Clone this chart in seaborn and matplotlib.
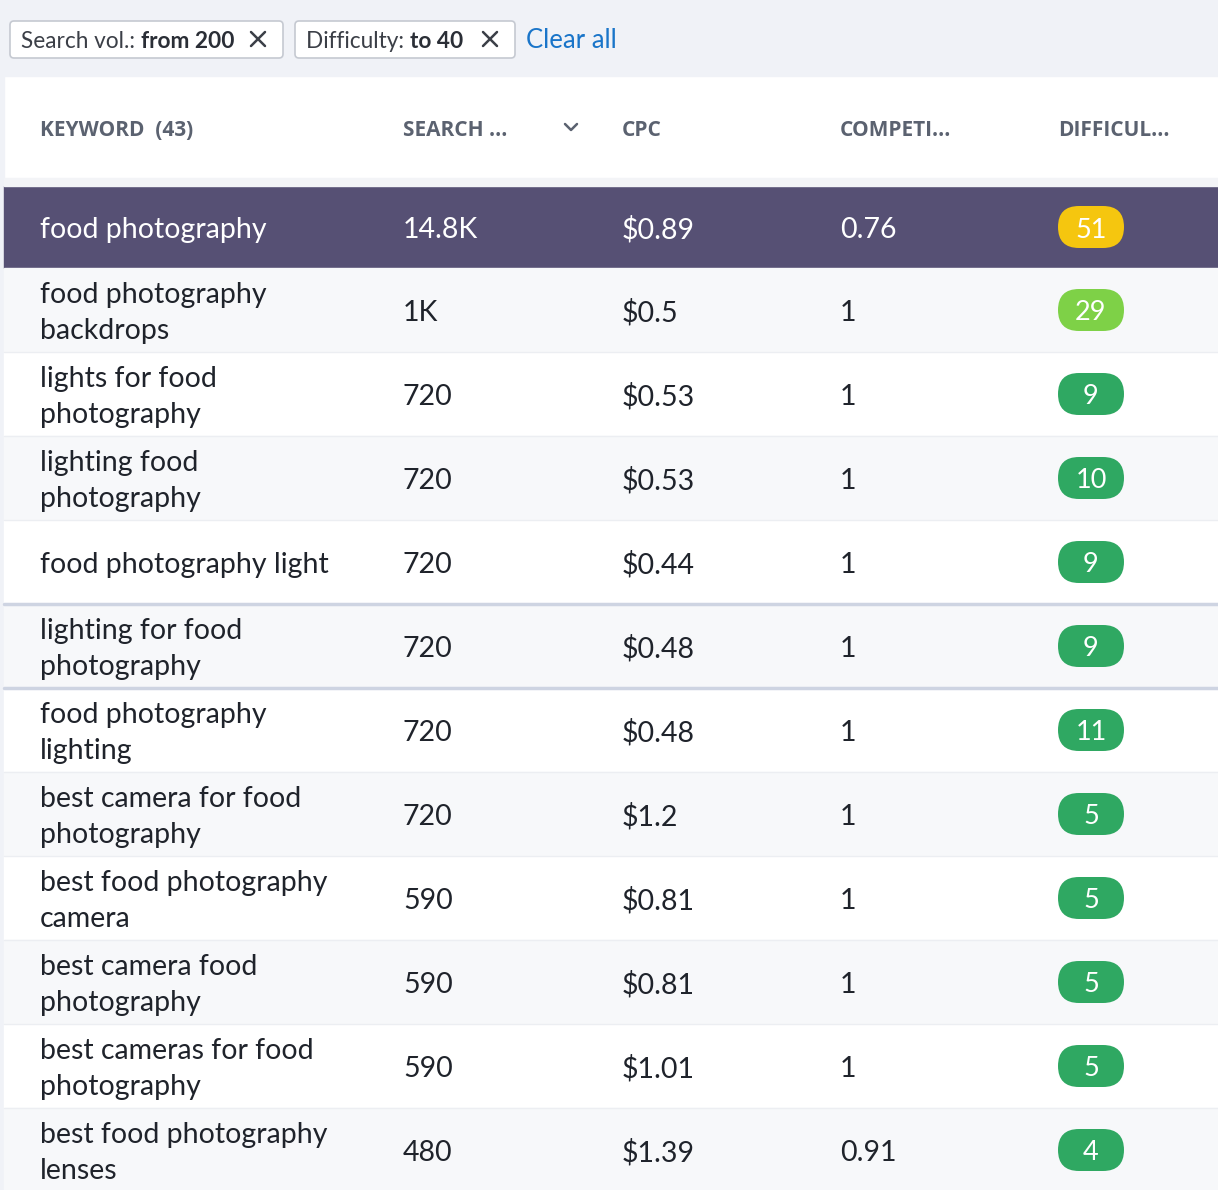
import matplotlib.pyplot as plt
import seaborn as sns
from matplotlib.patches import FancyBboxPatch, Rectangle

keywords = ["food photography", "food photography\nbackdrops", "lights for food\nphotography",
            "lighting food\nphotography", "food photography light", "lighting for food\nphotography",
            "food photography\nlighting", "best camera for food\nphotography", "best food photography\ncamera",
            "best camera food\nphotography", "best cameras for food\nphotography", "best food photography\nlenses"]
search_vol = ["14.8K", "1K", "720", "720", "720", "720", "720", "720", "590", "590", "590", "480"]
cpc = ["$0.89", "$0.5", "$0.53", "$0.53", "$0.44", "$0.48", "$0.48", "$1.2", "$0.81", "$0.81", "$1.01", "$1.39"]
competition = ["0.76", "1", "1", "1", "1", "1", "1", "1", "1", "1", "1", "0.91"]
difficulty = [51, 29, 9, 10, 9, 9, 11, 5, 5, 5, 5, 4]
headers = ["KEYWORD  (43)", "SEARCH ...", "CPC", "COMPETI...", "DIFFICUL..."]
filters = ["Search vol.: from 200", "Difficulty: to 40"]

sns.set_theme(style="white", font="Lato")
fig = plt.figure(figsize=(12.18, 11.9), dpi=100)
ax = fig.add_axes([0, 0, 1, 1])
ax.set_xlim(0, 1218)
ax.set_ylim(1190, 0)
ax.axis("off")


def cross(cx, cy, s=7, color="#3b3f47"):
    ax.plot([cx - s, cx + s], [cy - s, cy + s], color=color, lw=1.8, zorder=3)
    ax.plot([cx - s, cx + s], [cy + s, cy - s], color=color, lw=1.8, zorder=3)


# top filter bar
ax.add_patch(Rectangle((0, 0), 1218, 76, color="#f0f2f7", zorder=0))
ax.add_patch(Rectangle((0, 76), 4, 1114, color="#f0f2f7", zorder=0))
chip_x = [(10, 283), (295, 515)]
for (x0, x1), label in zip(chip_x, filters):
    ax.add_patch(FancyBboxPatch((x0, 21), x1 - x0, 37, boxstyle="round,pad=0,rounding_size=4",
                                fc="white", ec="#c5c9d1", lw=1.2, zorder=1))
    name, val = label.split(": ")
    t = ax.text(x0 + 11, 41, name + ": ", fontsize=16.3, color="#3b3f47", va="center", zorder=2)
    fig.canvas.draw()
    bb = t.get_window_extent()
    ax.text(bb.x1, 41, val, fontsize=16.3, color="#2a2e36", va="center", weight="bold", zorder=2)
    cross(x1 - 25, 39)
ax.text(526, 41, "Clear all", fontsize=18.5, color="#1a75c9", va="center")

# header
col_x = [40, 403, 622, 840, 1058]
for x, h in zip(col_x, headers):
    ax.text(x, 131, h, fontsize=15, weight="bold", color="#5b6270", va="center", family="Open Sans")
ax.plot([565, 571, 577], [124, 130, 124], color="#5b6270", lw=1.8)
ax.add_patch(Rectangle((4, 178), 1214, 8, color="#f3f4f7"))

# rows
for i, kw in enumerate(keywords):
    h = 82 if i == 0 else 84
    y0 = 186 if i == 0 else 268 + 84 * (i - 1)
    yc = y0 + h / 2
    fc = "#565074" if i == 0 else ("#f7f8fa" if i % 2 == 1 else "white")
    ax.add_patch(Rectangle((4, y0), 1214, h, color=fc, zorder=0))
    if i > 1:
        lw, lc = (2.5, "#ced4e2") if i in (5, 6) else (1.0, "#eceef2")
        ax.plot([4, 1218], [y0, y0], color=lc, lw=lw, zorder=1)
    tc = "white" if i == 0 else "#1f232b"
    ax.text(40, yc + 3, kw, fontsize=20.5, color=tc, va="center", linespacing=1.45)
    ax.text(403, yc + 3, search_vol[i], fontsize=20.5, color=tc, va="center")
    ax.text(622, yc + 3, cpc[i], fontsize=20.5, color=tc, va="center")
    ax.text(840, yc + 3, competition[i], fontsize=20.5, color=tc, va="center")
    d = difficulty[i]
    bc = "#f5c60f" if d > 40 else ("#7ed147" if d > 20 else "#2fa862")
    ax.add_patch(FancyBboxPatch((1058, yc - 21), 66, 42, boxstyle="round,pad=0,rounding_size=21",
                                fc=bc, ec="none", zorder=2))
    ax.text(1091, yc + 3, str(d), fontsize=19.5, color="white", va="center", ha="center", zorder=3)

fig.savefig("out.png", dpi=100)
